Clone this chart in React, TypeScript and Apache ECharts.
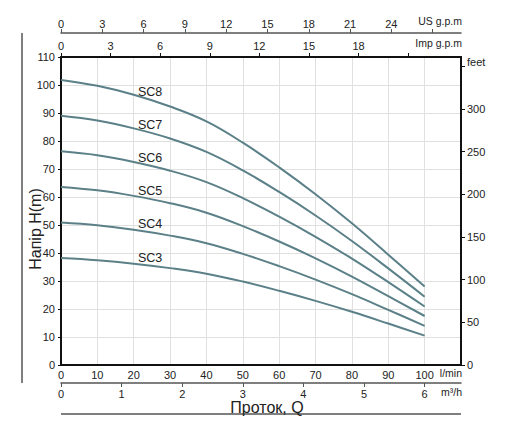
import { useEffect, useRef } from 'react';
import * as echarts from 'echarts';

// flow, l/min
const flowLpm = [0, 10, 20, 30, 40, 50, 60, 70, 80, 90, 100];

// head, m
const sc8 = [101.8, 99.7, 96.5, 92.3, 87.0, 79.4, 70.6, 61.0, 50.6, 39.4, 28.0];
const sc7 = [89.0, 87.3, 84.5, 80.9, 76.1, 69.5, 61.8, 53.4, 44.3, 34.5, 24.4];
const sc6 = [76.3, 74.9, 72.5, 69.4, 65.3, 59.6, 53.0, 45.8, 38.0, 29.6, 20.9];
const sc5 = [63.6, 62.4, 60.4, 57.8, 54.4, 49.6, 44.1, 38.1, 31.6, 24.6, 17.5];
const sc4 = [50.9, 49.9, 48.3, 46.2, 43.5, 39.7, 35.3, 30.5, 25.3, 19.7, 14.0];
const sc3 = [38.2, 37.4, 36.2, 34.6, 32.6, 29.8, 26.5, 22.9, 19.0, 14.8, 10.5];

const seriesNames = ['SC8', 'SC7', 'SC6', 'SC5', 'SC4', 'SC3'];
const seriesValues = [sc8, sc7, sc6, sc5, sc4, sc3];

// secondary scale ticks
const usGpmTicks = [0, 3, 6, 9, 12, 15, 18, 21, 24, 27];
const usGpmLabels = [0, 3, 6, 9, 12, 15, 18, 21, 24];
const impGpmTicks = [0, 3, 6, 9, 12, 15, 18, 21];
const impGpmLabels = [0, 3, 6, 9, 12, 15, 18];
const m3hTicks = [0, 1, 2, 3, 4, 5, 6];
const feetTicks = [0, 50, 100, 150, 200, 250, 300, 350];

const LPM_PER_USGPM = 3.78541;
const LPM_PER_IMPGPM = 4.54609;
const LPM_PER_M3H = 1000 / 60;
const M_PER_FT = 0.3048;

const FONT = '"Liberation Sans", Arial, sans-serif';
const TXT = '#222';
const CURVE = '#5b8088';
const LABEL_Q = 24.5;

function headAt(values: number[], q: number) {
  const i = Math.min(Math.floor(q / 10), values.length - 2);
  const t = (q - flowLpm[i]) / 10;
  return values[i] + (values[i + 1] - values[i]) * t;
}

export default function App() {
  const chartRef = useRef<HTMLDivElement>(null);

  useEffect(() => {
    if (!chartRef.current) return;
    const chart = echarts.init(chartRef.current, null, { renderer: 'svg' });

    const qMax = 110;
    const labelStyle = { color: TXT, fontSize: 11, fontFamily: FONT };

    const option: any = {
      animation: false,
      grid: { left: 61, right: 51, top: 57, bottom: 78 },
      xAxis: [
        {
          type: 'value',
          position: 'bottom',
          min: 0,
          max: qMax,
          interval: 10,
          axisLine: { show: true, onZero: false, lineStyle: { color: '#111', width: 2 } },
          axisTick: { show: false },
          axisLabel: {
            ...labelStyle,
            margin: 4,
            formatter: (v: number) => (v > 100 ? '' : String(v)),
          },
          splitLine: { show: true, lineStyle: { color: '#e0e0e0', width: 1 } },
        },
        {
          type: 'value',
          position: 'top',
          min: 0,
          max: qMax / LPM_PER_IMPGPM,
          axisLine: { show: true, onZero: false, lineStyle: { color: '#111', width: 2 } },
          axisTick: { show: true, length: 4, customValues: impGpmTicks, lineStyle: { color: '#111' } },
          axisLabel: { ...labelStyle, margin: 6, customValues: impGpmLabels },
          splitLine: { show: false },
        },
        {
          type: 'value',
          position: 'top',
          offset: 24,
          min: 0,
          max: qMax / LPM_PER_USGPM,
          axisLine: { show: true, onZero: false, lineStyle: { color: '#555', width: 1.5 } },
          axisTick: { show: true, length: 4, customValues: usGpmTicks, lineStyle: { color: '#555' } },
          axisLabel: { ...labelStyle, margin: 4, customValues: usGpmLabels },
          splitLine: { show: false },
        },
        {
          type: 'value',
          position: 'bottom',
          offset: 18,
          min: 0,
          max: qMax / LPM_PER_M3H,
          axisLine: { show: true, onZero: false, lineStyle: { color: '#555', width: 1.5 } },
          axisTick: { show: true, length: 4, customValues: m3hTicks, lineStyle: { color: '#555' } },
          axisLabel: { ...labelStyle, margin: 5, customValues: m3hTicks },
          splitLine: { show: false },
        },
      ],
      yAxis: [
        {
          type: 'value',
          position: 'left',
          min: 0,
          max: 110,
          interval: 10,
          axisLine: { show: true, onZero: false, lineStyle: { color: '#111', width: 2 } },
          axisTick: { show: true, length: 3, lineStyle: { color: '#111' } },
          axisLabel: { ...labelStyle, margin: 6 },
          splitLine: { show: true, lineStyle: { color: '#e0e0e0', width: 1 } },
        },
        {
          type: 'value',
          position: 'right',
          min: 0,
          max: 110 / M_PER_FT,
          axisLine: { show: true, onZero: false, lineStyle: { color: '#111', width: 2 } },
          axisTick: { show: true, length: 4, customValues: feetTicks, lineStyle: { color: '#111' } },
          axisLabel: {
            ...labelStyle,
            margin: 6,
            customValues: feetTicks,
            formatter: (v: number) => (v === 350 ? '{f|feet}' : String(v)),
            rich: { f: { color: TXT, fontSize: 11, fontFamily: FONT, padding: [0, 0, 8, 0] } },
          },
          splitLine: { show: false },
        },
      ],
      series: seriesNames.map((name, k) => ({
        name,
        type: 'line',
        xAxisIndex: 0,
        yAxisIndex: 0,
        smooth: 0.4,
        showSymbol: false,
        symbol: 'none',
        lineStyle: { color: CURVE, width: 2 },
        data: flowLpm.map((q, i) => [q, seriesValues[k][i]]),
        markPoint: {
          symbol: 'circle',
          symbolSize: 0,
          silent: true,
          label: {
            show: true,
            position: 'inside',
            offset: [0, -8],
            formatter: name,
            color: TXT,
            fontSize: 12.5,
            fontFamily: FONT,
          },
          data: [{ coord: [LABEL_Q, headAt(seriesValues[k], LABEL_Q)] }],
        },
      })),
      graphic: [
        {
          type: 'line',
          shape: { x1: 22, y1: 33, x2: 22, y2: 383 },
          style: { stroke: '#555', lineWidth: 1.5 },
        },
        {
          type: 'line',
          shape: { x1: 61, y1: 414, x2: 461, y2: 414 },
          style: { stroke: '#555', lineWidth: 1.5 },
        },
        {
          type: 'text',
          x: 462,
          y: 21,
          style: { text: 'US g.p.m', fill: TXT, font: `10.5px ${FONT}`, align: 'right', verticalAlign: 'middle' },
        },
        {
          type: 'text',
          x: 462,
          y: 43,
          style: { text: 'Imp g.p.m', fill: TXT, font: `10.5px ${FONT}`, align: 'right', verticalAlign: 'middle' },
        },
        {
          type: 'text',
          x: 462,
          y: 373,
          style: { text: 'l/min', fill: TXT, font: `10.5px ${FONT}`, align: 'right', verticalAlign: 'middle' },
        },
        {
          type: 'text',
          x: 462,
          y: 392,
          style: { text: 'm³/h', fill: TXT, font: `10.5px ${FONT}`, align: 'right', verticalAlign: 'middle' },
        },
        {
          type: 'text',
          x: 267,
          y: 407,
          style: { text: 'Проток, Q', fill: TXT, font: `16px ${FONT}`, align: 'center', verticalAlign: 'middle' },
        },
        {
          type: 'text',
          x: 35,
          y: 229,
          rotation: Math.PI / 2,
          style: { text: 'Напір H(m)', fill: TXT, font: `16px ${FONT}`, align: 'center', verticalAlign: 'middle' },
        },
      ],
    };

    chart.setOption(option);
    return () => chart.dispose();
  }, []);

  return (
    <div
      ref={chartRef}
      style={{ position: 'fixed', left: 0, top: 0, width: 512, height: 443, background: '#fff' }}
    />
  );
}
